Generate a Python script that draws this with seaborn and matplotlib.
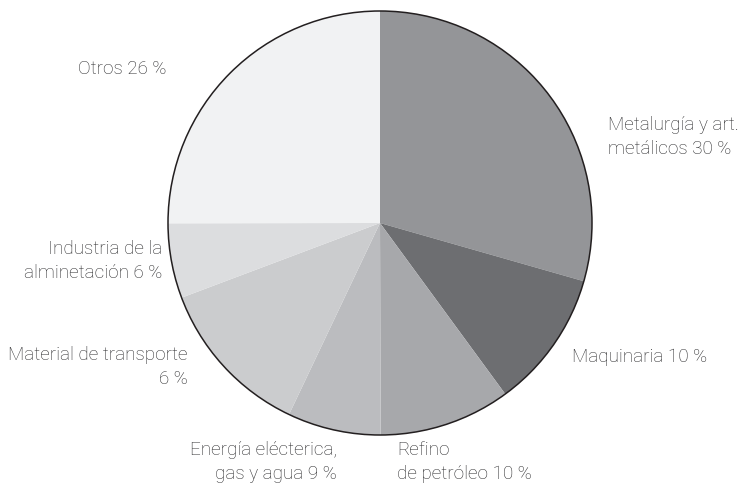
import matplotlib
matplotlib.use("Agg")
import matplotlib.pyplot as plt
from matplotlib.patches import Circle
import seaborn as sns

# Data (shares as drawn in the reference, clockwise from 12 o'clock)
sectors = ["Metalurgia y art. metálicos", "Maquinaria", "Refino de petróleo",
           "Energía eléctrica, gas y agua", "Material de transporte",
           "Industria de la alimentación", "Otros"]
shares = [29.4, 10.5, 10.0, 7.1, 12.2, 5.7, 25.0]
colors = ["#949598", "#6d6e71", "#a7a8ab", "#bbbcbf", "#cbccce", "#dcdddf", "#f1f2f3"]

# Label texts as printed in the reference (lines)
label_lines = [
    ["Metalurgía y art.", "metálicos 30 %"],
    ["Maquinaria 10 %"],
    ["Refino", "de petróleo 10 %"],
    ["Energía elécterica,", "gas y agua 9 %"],
    ["Material de transporte", "6 %"],
    ["Industria de la", "alminetación 6 %"],
    ["Otros 26 %"],
]

sns.set_theme(style="white")
plt.rcParams["font.family"] = ["Roboto", "DejaVu Sans"]

W, H = 741, 483
fig = plt.figure(figsize=(W / 100, H / 100), dpi=100)
ax = fig.add_axes([0, 0, 1, 1])

cx, cy, r = 380.0, H - 223.0, 212.0
ax.pie(shares, colors=colors, startangle=90, counterclock=False,
       center=(cx, cy), radius=r, frame=True,
       wedgeprops=dict(linewidth=0, edgecolor="none", antialiased=True))
ax.add_patch(Circle((cx, cy), r, fill=False, edgecolor="#231f20", linewidth=1.1, zorder=5))

ax.set_xlim(0, W)
ax.set_ylim(0, H)
ax.set_aspect("equal")
ax.axis("off")

# label anchor positions (pixel coords from top), alignment
placements = [
    (608, 125, "left"),
    (572, 357, "left"),
    (397, 450, "left"),
    (337, 450, "right"),
    (188, 355, "right"),
    (162, 249, "right"),
    (122, 69, "center"),
]
line_gap = 24
tcolor = "#2a2a2c"
for lines, (x, y, ha) in zip(label_lines, placements):
    for i, line in enumerate(lines):
        ax.text(x, H - (y + i * line_gap), line, ha=ha, va="center",
                fontsize=13.6, fontweight="light", color=tcolor)

fig.savefig("out.png", dpi=100)
